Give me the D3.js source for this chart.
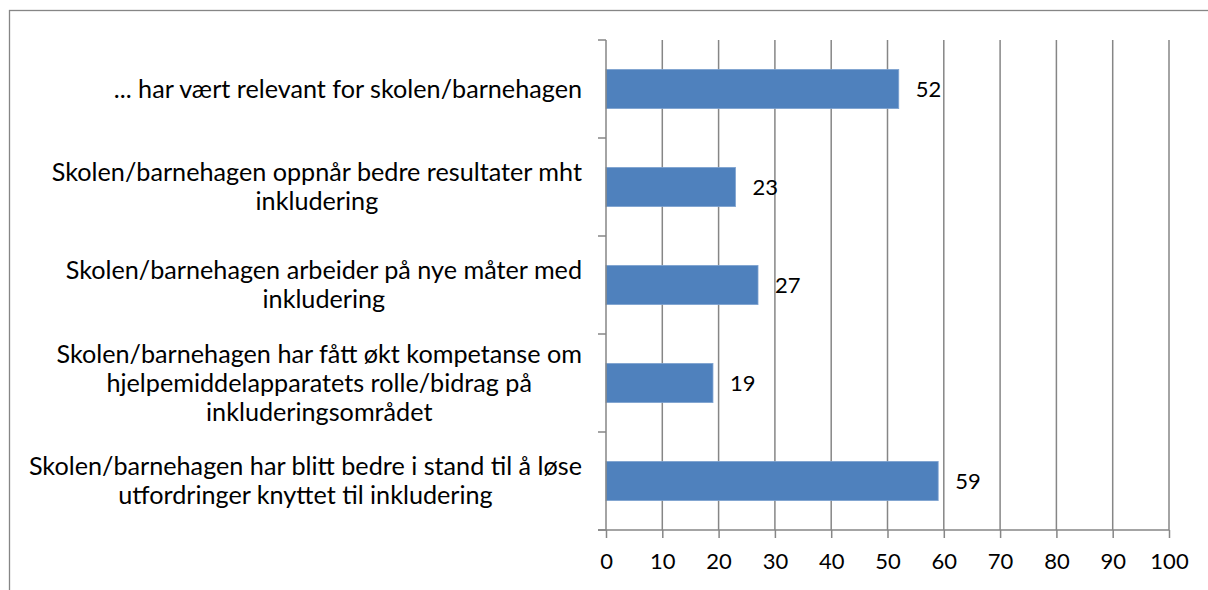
<!DOCTYPE html>
<html>
<head>
<meta charset="utf-8">
<script src="https://cdn.jsdelivr.net/npm/d3@7"></script>
<style>
  body { margin: 0; background: #fff; }
  text { font-family: Lato, "Open Sans", sans-serif; fill: #000; }
</style>
</head>
<body>
<script>
// data, top to bottom
const labels = [
  ["... har vært relevant for skolen/barnehagen"],
  ["Skolen/barnehagen oppnår bedre resultater mht", "inkludering"],
  ["Skolen/barnehagen arbeider på nye måter med", "inkludering"],
  ["Skolen/barnehagen har fått økt kompetanse om", "hjelpemiddelapparatets rolle/bidrag på", "inkluderingsområdet"],
  ["Skolen/barnehagen har blitt bedre i stand til å løse", "utfordringer knyttet til inkludering"]
];
const values = [52, 23, 27, 19, 59];
const xTicks = [0, 10, 20, 30, 40, 50, 60, 70, 80, 90, 100];

const W = 1208, H = 590;
const margin = {top: 40, right: 39, bottom: 60, left: 606};
const width = W - margin.left - margin.right,
      height = H - margin.top - margin.bottom;

const svg = d3.select("body").append("svg")
  .attr("width", W)
  .attr("height", H);

// outer frame (runs off the right and bottom edge)
svg.append("rect")
  .attr("x", 9.5).attr("y", 10.5)
  .attr("width", W + 20).attr("height", H + 20)
  .attr("fill", "none")
  .attr("stroke", "#868686")
  .attr("stroke-width", 1.3);

const g = svg.append("g")
  .attr("transform", "translate(" + margin.left + "," + margin.top + ")");

const x = d3.scaleLinear().domain([0, 100]).range([0, width]);
const y = d3.scaleBand()
  .domain(d3.range(labels.length))
  .range([0, height])
  .paddingInner(0.6)
  .paddingOuter(0.3);

const grey = "#868686";

// vertical gridlines
g.selectAll(".grid")
  .data(xTicks.slice(1))
  .enter().append("line")
  .attr("x1", d => x(d)).attr("x2", d => x(d))
  .attr("y1", 0).attr("y2", height)
  .attr("stroke", grey)
  .attr("stroke-width", 1.5);

// bars
g.selectAll(".bar")
  .data(values)
  .enter().append("rect")
  .attr("x", x(0))
  .attr("y", (d, i) => y(i))
  .attr("width", d => x(d) - x(0))
  .attr("height", y.bandwidth())
  .attr("fill", "#4F81BD")
  .attr("stroke", "#7fa3d0")
  .attr("stroke-width", 0.8);

// value labels
g.selectAll(".val")
  .data(values)
  .enter().append("text")
  .attr("x", d => x(d) + 17)
  .attr("y", (d, i) => y(i) + y.bandwidth() / 2)
  .attr("dy", "0.35em")
  .style("font-size", "22px")
  .text(d => d);

// x axis
const xAxis = g.append("g")
  .attr("transform", "translate(0," + height + ")")
  .call(d3.axisBottom(x).tickValues(xTicks).tickSize(8).tickPadding(15).tickSizeOuter(0));
xAxis.select(".domain").attr("stroke", grey).attr("stroke-width", 1.5).attr("d", "M-8,0H" + width);
xAxis.selectAll(".tick line").attr("stroke", grey).attr("stroke-width", 1.5);
xAxis.selectAll(".tick text")
  .style("font-family", "Lato, sans-serif")
  .style("font-size", "22px")
  .attr("fill", "#000");

// y axis with ticks at category boundaries
const step = y.step();
const yLine = g.append("g");
yLine.append("line")
  .attr("x1", 0).attr("x2", 0)
  .attr("y1", 0).attr("y2", height)
  .attr("stroke", grey).attr("stroke-width", 1.5);
yLine.selectAll(".ytick")
  .data(d3.range(labels.length + 1))
  .enter().append("line")
  .attr("x1", -8).attr("x2", 0)
  .attr("y1", i => i * step).attr("y2", i => i * step)
  .attr("stroke", grey).attr("stroke-width", 1.5);

// category labels: block right aligned to the axis, lines centred in block
const lineH = 29;
const labelRight = -24;
labels.forEach((lines, i) => {
  const t = g.append("text")
    .style("font-size", "25.2px")
    .attr("text-anchor", "middle");
  const cy = y(i) + y.bandwidth() / 2;
  lines.forEach((ln, k) => {
    t.append("tspan")
      .attr("y", cy + (k - (lines.length - 1) / 2) * lineH)
      .attr("dy", "0.35em")
      .text(ln);
  });
  let maxW = 0;
  t.selectAll("tspan").each(function() {
    maxW = Math.max(maxW, this.getComputedTextLength());
  });
  t.selectAll("tspan").attr("x", labelRight - maxW / 2);
});
</script>
</body>
</html>
